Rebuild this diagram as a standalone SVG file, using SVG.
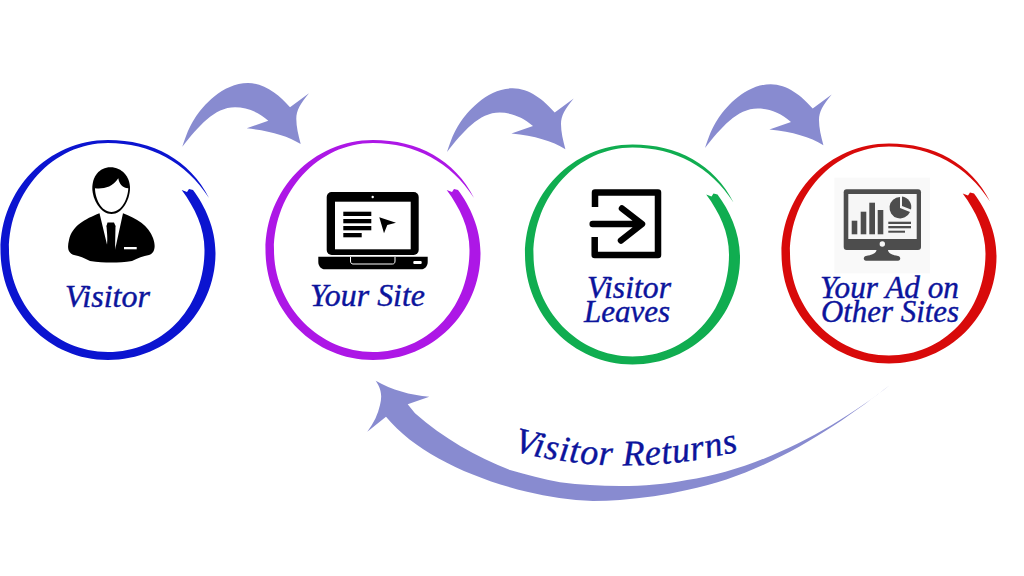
<svg xmlns="http://www.w3.org/2000/svg" xmlns:xlink="http://www.w3.org/1999/xlink" width="1024" height="576" viewBox="0 0 1024 576">
<style>
.lbl{font-family:"Liberation Serif","Times New Roman",serif;font-style:italic;font-size:31px;fill:#0c149c;stroke:#0c149c;stroke-width:.4px}
.arrow{fill:#888bd0}
.k{fill:#000}
.w{fill:#fff}
.m{fill:#4d4d4d}
.l{fill:#f6f6f6}
</style>
<defs>
<path id="ring" d="M101,-52C82,-90 45,-110 0,-110C-60,-110 -107.500,-60 -107.500,0C-107.500,60 -60,110 0,110C60,110 107.500,62 107.500,3C107.500,-22 97,-44 85,-60L81,-61L79,-58L73.700,-60C87,-42 96.500,-22 96.500,0C96.500,58 55,102 0,102C-55,102 -99,55 -99,0C-99,-58 -55,-107 0,-107C42,-107 78,-88 101,-52Z"/>
<path id="bend" d="M0,0C4,-12 7,-20 12.700,-28.700C20,-40 40,-63.700 65.700,-63.700C82,-63.700 97,-52 107.700,-39.400L126.700,-53.400C118,-43 114,-36 114,-28C114,-20 116,-12 118.400,-2.700C105,-11 88,-16 64.400,-18.400L86,-26C76,-35 64,-39.400 52.700,-39.400C32,-39.400 16,-20 0,0Z"/>
<path id="curve" d="M513,451Q625,480 740,451"/>
</defs>
<rect width="1024" height="576" fill="#fff"/>
<g id="connectors">
<use href="#bend" class="arrow" x="182.300" y="146.700"/>
<use href="#bend" class="arrow" x="447" y="152"/>
<use href="#bend" class="arrow" x="705" y="148"/>
<path class="arrow" d="M890,385C840,425 760,470 687,480C665,484 645,486 620,486C600,486 580,485 560,482.300C543,479 527,475 510,470C476,457 443,438 415,413.300L407.700,404.300L429.300,396.700C410,395 392,390 375.700,380.700C382,390 382,397 380,405C378,414 374,423 367.300,431.700L386,416.700C415,452 470,478 527,491.700C548,497 570,500 593,501C602,501 611,500.700 620,500C643,498 665,495 687,490C770,474 845,420 890,385Z"/>
</g>
<g id="node-visitor">
<use href="#ring" x="108" y="250" fill="#0b14d0"/>
<path class="k" d="M110.500,167.300C99,167.300 92.300,177 92.300,188C92.300,200 101,214 111.500,214C122,214 130,200 130,188C130,177 122,167.300 110.500,167.300Z"/>
<path class="w" d="M95,188.300C103,189 112,188 118.300,178.300C119,183 122,188 128.300,188.300C128,198 122,212 111.500,212C101,212 95,198 95,188.300Z"/>
<path class="k" d="M99.500,213.300C85,219 72,226 69,240C67,248 68,253 74,255C80,256 84,258 90,261C105,263 118,263 132,261C138,258 143,256 149,255C155,253 156,246 153,238C149,226 136,218 123,213.300L111,228Z"/>
<path class="w" d="M99.500,213.300L108.300,250L106.500,226L111,222L115.500,226L115,250L123,213.300L118,214C113,216 108,216 104,214Z"/>
<path class="k" d="M107.500,222.500L114,222.500L115.500,226L113.500,229L115.500,250L111,255L106.500,250L108.500,229L106.500,226Z"/>
<rect class="w" x="124" y="247" width="12.700" height="2.300"/>
<text class="lbl" x="65" y="307" textLength="85" lengthAdjust="spacingAndGlyphs">Visitor</text>
</g>
<g id="node-your-site">
<use href="#ring" x="373" y="250" fill="#ad17e6"/>
<rect class="k" x="326.700" y="192" width="92" height="63" rx="5"/>
<rect class="w" x="335" y="201.700" width="75.700" height="47.600"/>
<circle class="w" cx="372.700" cy="197" r="1.200"/>
<rect class="k" x="343.300" y="211.700" width="28" height="4.300"/>
<rect class="k" x="343.300" y="219" width="28" height="4.300"/>
<rect class="k" x="343.300" y="226" width="28" height="4.300"/>
<rect class="k" x="343.300" y="233" width="18.400" height="4.300"/>
<path class="k" d="M379.300,217.300L396,222.700L387.300,225L384,233.300Z"/>
<path class="k" d="M318.300,256.700H427.700V262C427.700,266 425,269.300 421,269.300H325C321,269.300 318.300,266 318.300,262Z"/>
<path d="M350.500,257V261C350.500,263 351.500,264 353,264H392.500C394,264 395,263 395,261V257" fill="none" stroke="#fff" stroke-width="1"/>
<rect class="w" x="413.300" y="261" width="8.400" height="3" rx="1"/>
<text class="lbl" x="310" y="306" textLength="115" lengthAdjust="spacingAndGlyphs">Your Site</text>
</g>
<g id="node-visitor-leaves">
<use href="#ring" x="632.500" y="254.500" fill="#10ad50"/>
<path d="M595,207V192.500H658V255H594.700V237" fill="none" stroke="#000" stroke-width="6.500" stroke-linejoin="round"/>
<path d="M592.700,224H641.500M622,208.500L642,224L621,240.500" fill="none" stroke="#000" stroke-width="6.500" stroke-linecap="round" stroke-linejoin="round"/>
<text class="lbl" x="587" y="298" textLength="84" lengthAdjust="spacingAndGlyphs">Visitor</text>
<text class="lbl" x="584" y="322" textLength="86" lengthAdjust="spacingAndGlyphs">Leaves</text>
</g>
<g id="node-your-ad">
<use href="#ring" x="889" y="253.500" fill="#d80a0a"/>
<rect x="834.300" y="177.700" width="95.700" height="95.600" fill="#f9f9f9"/>
<rect class="m" x="843.700" y="189.300" width="77.300" height="60.700" rx="3"/>
<rect class="l" x="848.300" y="194" width="68.400" height="45"/>
<rect class="m" x="851.700" y="220.700" width="5.600" height="13.600"/>
<rect class="m" x="860.700" y="211.700" width="5.600" height="22.600"/>
<rect class="m" x="869.300" y="202.700" width="5.700" height="31.600"/>
<rect class="m" x="877.700" y="210" width="5.600" height="24.300"/>
<path class="m" d="M900,197V208L910,212A10.700,10.700 0 1 1 900,197Z"/>
<path class="m" d="M902,196.500A10.700,10.700 0 0 1 911,209.500L902,206Z"/>
<rect class="m" x="888.300" y="221.700" width="22.700" height="2.300"/>
<rect class="m" x="888.300" y="226" width="22.700" height="2.300"/>
<rect class="m" x="888.300" y="230.700" width="16.700" height="2"/>
<circle class="l" cx="882.300" cy="244" r="2.700"/>
<path class="m" d="M876.500,250H888C888,253 892,255 898,256C901,256.500 901,260.700 898,260.700H866C863,260.700 863,256.500 866,256C872,255 876.500,253 876.500,250Z"/>
<text class="lbl" x="820" y="298" textLength="139" lengthAdjust="spacingAndGlyphs">Your Ad on</text>
<text class="lbl" x="821" y="322" textLength="138" lengthAdjust="spacingAndGlyphs">Other Sites</text>
</g>
<g id="label-visitor-returns">
<text class="lbl" style="font-size:36px"><textPath href="#curve" xlink:href="#curve" textLength="228" lengthAdjust="spacing">Visitor Returns</textPath></text>
</g>
</svg>
